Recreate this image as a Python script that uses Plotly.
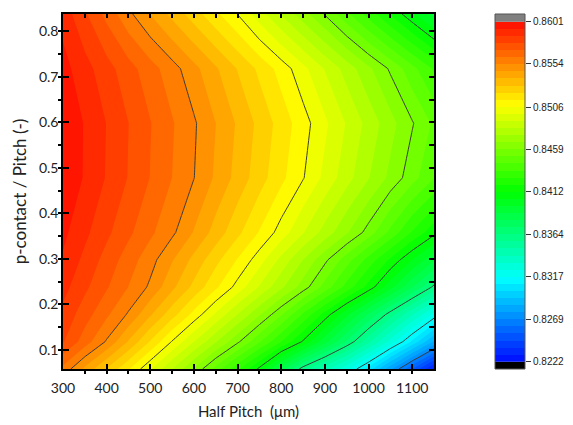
import plotly.graph_objects as go

# ---- data ----
half_pitch = [300, 350, 400, 450, 500, 550, 600, 650, 700, 750, 800, 850, 900, 950, 1000, 1050, 1100, 1150]
p_ratio = [0.058, 0.118, 0.178, 0.238, 0.298, 0.358, 0.478, 0.598, 0.718, 0.838]

eff_r058 = [0.8559, 0.8544, 0.85294, 0.85148, 0.84993, 0.84827, 0.8466, 0.8448, 0.84291, 0.84094, 0.83836, 0.836, 0.83432, 0.83264, 0.83055, 0.82794, 0.82536, 0.8228]
eff_r118 = [0.8578, 0.85655, 0.85527, 0.85371, 0.85214, 0.85057, 0.84906, 0.84756, 0.84605, 0.8444, 0.84273, 0.84104, 0.83908, 0.83711, 0.83505, 0.83293, 0.83072, 0.8284]
eff_r178 = [0.8583, 0.8573, 0.8563, 0.85526, 0.85389, 0.85252, 0.85115, 0.84972, 0.84825, 0.84678, 0.84519, 0.84341, 0.84163, 0.83977, 0.8379, 0.83602, 0.83411, 0.8322]
eff_r238 = [0.8588, 0.85791, 0.85703, 0.85614, 0.85521, 0.85399, 0.85278, 0.85157, 0.85033, 0.84899, 0.84765, 0.8463, 0.8448, 0.84322, 0.84164, 0.83988, 0.83805, 0.8362]
eff_r298 = [0.8592, 0.85832, 0.85743, 0.85655, 0.85567, 0.85464, 0.85355, 0.85245, 0.85136, 0.85019, 0.84882, 0.84746, 0.84609, 0.84467, 0.84323, 0.8418, 0.84037, 0.83894]
eff_r358 = [0.8595, 0.85871, 0.85791, 0.85712, 0.85632, 0.85553, 0.85452, 0.85346, 0.85241, 0.85136, 0.85027, 0.84911, 0.84795, 0.84678, 0.84555, 0.8441, 0.84265, 0.8414]
eff_r478 = [0.8600, 0.85923, 0.85846, 0.85769, 0.85692, 0.85615, 0.85538, 0.85444, 0.8535, 0.85256, 0.85162, 0.85068, 0.84963, 0.84858, 0.84752, 0.84647, 0.84542, 0.84436]
eff_r598 = [0.8600, 0.85925, 0.8585, 0.85774, 0.85698, 0.85623, 0.85547, 0.85458, 0.85368, 0.85277, 0.85187, 0.85096, 0.85, 0.84899, 0.84798, 0.84697, 0.84596, 0.84495]
eff_r718 = [0.8596, 0.85882, 0.85804, 0.85726, 0.85648, 0.8557, 0.85482, 0.85389, 0.85295, 0.85202, 0.85109, 0.85008, 0.849, 0.84793, 0.84685, 0.84576, 0.84458, 0.8434]
eff_r838 = [0.8590, 0.85785, 0.85671, 0.85556, 0.85455, 0.85356, 0.85258, 0.85159, 0.8506, 0.84941, 0.84821, 0.84702, 0.84582, 0.8445, 0.84318, 0.84186, 0.84054, 0.83922]

cb_tick_vals = [0.8222, 0.8269, 0.8317, 0.8364, 0.8412, 0.8459, 0.8506, 0.8554, 0.8601]
cb_tick_text = ["0.8222", "0.8269", "0.8317", "0.8364", "0.8412", "0.8459", "0.8506", "0.8554", "0.8601"]

z_grid = [eff_r058, eff_r118, eff_r178, eff_r238, eff_r298,
          eff_r358, eff_r478, eff_r598, eff_r718, eff_r838]

# ---- scale settings ----
zmin, zmax = cb_tick_vals[0], cb_tick_vals[-1]
n_bands = 48
band = (zmax - zmin) / n_bands
line_step = band * 6

rainbow = [[0.0, "#0000ff"], [0.25, "#00ffff"], [0.5, "#00ff00"],
           [0.75, "#ffff00"], [1.0, "#ff0000"]]

fig = go.Figure()

# filled contour bands
fig.add_trace(go.Contour(
    x=half_pitch, y=p_ratio, z=z_grid,
    colorscale=rainbow, autocontour=False,
    contours=dict(start=zmin, end=zmax, size=band, coloring="fill", showlines=False),
    line=dict(width=0, smoothing=0),
    showscale=False, hoverinfo="skip"))

# black contour lines at every labelled level
fig.add_trace(go.Contour(
    x=half_pitch, y=p_ratio, z=z_grid,
    autocontour=False,
    contours=dict(start=zmin + line_step, end=zmax - line_step + 1e-9,
                  size=line_step, coloring="none", showlines=True),
    line=dict(color="#3c3c3c", width=1, smoothing=0),
    showscale=False, hoverinfo="skip"))

# dummy trace carrying mirrored tick axes
fig.add_trace(go.Scatter(x=[None], y=[None], xaxis="x2", yaxis="y2",
                         showlegend=False, hoverinfo="skip"))

# colour bar drawn as a heatmap of the band levels
band_mid = [zmin + (k + 0.5) * band for k in range(n_bands)]
fig.add_trace(go.Heatmap(
    x=[0], y=band_mid, z=[[v] for v in band_mid],
    colorscale=rainbow, zmin=zmin - band / 2, zmax=zmax + band / 2,
    showscale=False, xaxis="x3", yaxis="y3", hoverinfo="skip"))

cap_top = band * 1.1
cap_bot = band * 1.0

tick_font = dict(family="Lato, 'Open Sans', sans-serif", size=14, color="#222222")
xtitle_font = dict(family="Lato, 'Open Sans', sans-serif", size=15, color="#222222")
ytitle_font = dict(family="Lato, 'Open Sans', sans-serif", size=17, color="#222222")

# page body has an 8px margin: figure is reduced by that amount
fig_w, fig_h = 565, 417
m_l, m_r, m_t, m_b = 55, 12, 4, 56
paper_w = fig_w - m_l - m_r
x_dom = [0, 371 / paper_w]

fig.update_layout(
    width=fig_w, height=fig_h,
    margin=dict(l=m_l, r=m_r, t=m_t, b=m_b),
    paper_bgcolor="white", plot_bgcolor="white",
    showlegend=False,
    xaxis=dict(
        domain=x_dom, range=[300, 1150], tickmode="linear", tick0=300, dtick=100,
        ticks="inside", ticklen=5, tickwidth=1.5, tickcolor="black",
        minor=dict(tick0=300, dtick=50, ticks="outside", ticklen=3,
                   tickwidth=1.5, tickcolor="black", showgrid=False),
        showline=True, linecolor="black", linewidth=1.5, mirror=True,
        showgrid=False, zeroline=False, tickfont=tick_font, ticklabelstandoff=5,
        title=dict(text="Half Pitch  (\u03bcm)", font=xtitle_font, standoff=12)),
    yaxis=dict(
        range=[0.058, 0.838], tickmode="linear", tick0=0.1, dtick=0.1,
        ticks="inside", ticklen=6, tickwidth=1.5, tickcolor="black",
        minor=dict(tick0=0.05, dtick=0.05, ticks="outside", ticklen=3,
                   tickwidth=1.5, tickcolor="black", showgrid=False),
        showline=True, linecolor="black", linewidth=1.5, mirror=True,
        showgrid=False, zeroline=False, tickfont=tick_font,
        title=dict(text="p-contact / Pitch (-)", font=ytitle_font, standoff=8)),
    xaxis2=dict(
        overlaying="x", side="top", anchor="y2", range=[300, 1150],
        tickmode="linear", tick0=300, dtick=50, ticks="inside", ticklen=4,
        tickwidth=1.5, tickcolor="black", showticklabels=False,
        showgrid=False, zeroline=False, showline=False),
    yaxis2=dict(
        overlaying="y", side="right", anchor="x2", range=[0.058, 0.838],
        tickmode="linear", tick0=0.05, dtick=0.05, ticks="inside", ticklen=5,
        tickwidth=1.5, tickcolor="black", showticklabels=False,
        showgrid=False, zeroline=False, showline=False),
    xaxis3=dict(domain=[432 / paper_w, 462 / paper_w], anchor="y3", range=[-0.5, 0.5],
                visible=False, fixedrange=True),
    yaxis3=dict(domain=[0, 1], anchor="x3", side="right",
                range=[zmin - cap_bot, zmax + cap_top],
                tickmode="array", tickvals=cb_tick_vals, ticktext=cb_tick_text,
                ticks="outside", ticklen=5, tickwidth=1, tickcolor="#333333",
                showgrid=False, zeroline=False, showline=False,
                tickfont=dict(family="'Liberation Sans', Arial, sans-serif",
                              size=10, color="#222222")),
    shapes=[
        dict(type="rect", xref="x3 domain", yref="y3", x0=0, x1=1,
             y0=zmax, y1=zmax + cap_top, fillcolor="#808080", line=dict(width=0)),
        dict(type="rect", xref="x3 domain", yref="y3", x0=0, x1=1,
             y0=zmin - cap_bot, y1=zmin, fillcolor="black", line=dict(width=0)),
        dict(type="rect", xref="x3 domain", yref="y3 domain", x0=0, x1=1,
             y0=0, y1=1, fillcolor="rgba(0,0,0,0)",
             line=dict(color="#555555", width=1)),
    ],
)

fig.write_html("out.html")
